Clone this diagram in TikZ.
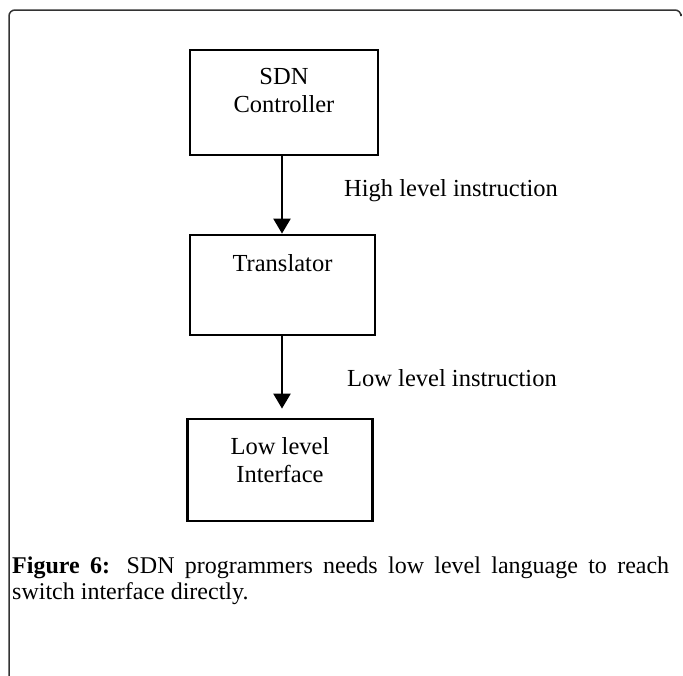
\documentclass[tikz,border=0pt]{standalone}
\usepackage{fontspec}
\setmainfont{Liberation Serif}
\usetikzlibrary{arrows.meta}
\begin{document}
\begin{tikzpicture}[x=1pt,y=-1pt,
  box/.style={draw=black,line width=2.8pt,minimum width=#1,inner sep=0pt},
  box/.default=186pt,
  txt/.style={font=\fontsize{24.5}{28}\selectfont,align=center,inner sep=0pt},
  arr/.style={line width=2.4pt,-{Triangle[width=17pt,length=15pt]}},
  frame/.style={draw=black!80,line width=1.5pt,rounded corners=6pt}]
\useasboundingbox (0,0) rectangle (683,675);
\draw[frame] (9,680) -- (9,10) -- (681,10) -- (681,14);
\node[box=188pt,minimum height=105pt] (ctrl) at (284,102.5) {};
\node[txt] (ctrlt) at (284,91) {SDN\\Controller};
\node[box=185pt,minimum height=100pt] (trans) at (282.5,285) {};
\node[txt] (transt) at (282.5,263) {Translator};
\node[box=185pt,minimum height=102pt] (low) at (280,470) {};
\node[txt] (lowt) at (280,460) {Low level\\Interface};
\draw[arr] (ctrl.south -| 282,0) -- (trans.north -| 282,0);
\draw[arr,shorten >=9pt] (trans.south -| 282,0) -- (low.north -| 282,0);
\node[txt,anchor=west] (hl) at (344,191) {High level instruction};
\node[txt,anchor=west] (ll) at (347,378) {Low level instruction};
\node[anchor=north west,inner sep=0pt,text width=657pt,align=justify,
  font=\fontsize{24}{25.5}\selectfont] (cap) at (12,557)
  {\textbf{Figure 6:} SDN programmers needs low level language to reach\linebreak switch interface directly.};
\end{tikzpicture}
\end{document}
